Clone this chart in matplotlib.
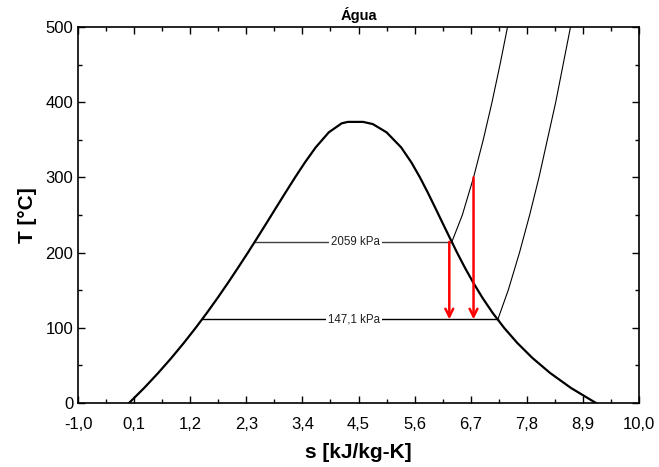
import numpy as np
import matplotlib
matplotlib.use("Agg")
import matplotlib.pyplot as plt
from matplotlib.ticker import FixedLocator, MultipleLocator

plt.rcParams['font.family'] = ['Liberation Sans', 'DejaVu Sans']

# curva de saturacao (T em C, s em kJ/kg-K), lado liquido e lado vapor
T_liq = [0.01, 20, 40, 60, 80, 100, 120, 140, 160, 180, 200, 220, 240,
         260, 280, 300, 320, 340, 360, 372, 373.9]
s_liq = [0.0, 0.2966, 0.5724, 0.8312, 1.0754, 1.3069, 1.5278, 1.7391, 1.9418,
         2.1381, 2.3305, 2.5175, 2.7020, 2.8849, 3.0685, 3.2552, 3.4494,
         3.6601, 3.9167, 4.17, 4.29]
T_vap = [373.9, 371, 360, 340, 320, 300, 280, 260, 240, 220, 200, 180,
         160, 140, 120, 100, 80, 60, 40, 20, 0.01]
s_vap = [4.59, 4.78, 5.05, 5.3357, 5.5362, 5.7049, 5.8571, 6.0019, 6.1437,
         6.2872, 6.4323, 6.5857, 6.7502, 6.9294, 7.1286, 7.3544, 7.6111,
         7.9082, 8.2556, 8.6661, 9.1556]

# isobaras
p_alta_label = "2059 kPa"
T_alta = [214.3, 250, 300, 350, 400, 450, 500]
s_alta = [6.33, 6.535, 6.755, 6.945, 7.117, 7.274, 7.421]
s_alta_liq = 2.46

p_baixa_label = "147,1 kPa"
T_baixa = [111.3, 150, 200, 250, 300, 400, 500]
s_baixa = [7.232, 7.435, 7.656, 7.855, 8.038, 8.366, 8.656]
s_baixa_liq = 1.43

# setas de expansao (s, T inicio, T fim)
setas_s = [6.28, 6.755]
setas_T0 = [214.3, 300]
setas_T1 = [111.3, 111.3]

fig = plt.figure(figsize=(6.59, 4.67), dpi=100)
ax = fig.add_axes([0.1184, 0.137, 0.8513, 0.805])

# domo
ax.plot(s_liq + s_vap, T_liq + T_vap, color='black', lw=1.6, zorder=3)

# isobaras
ax.plot([s_alta_liq, s_alta[0]], [T_alta[0], T_alta[0]], color='#404040', lw=1.0, zorder=2)
ax.plot(s_alta, T_alta, color='black', lw=0.8, zorder=2)
ax.plot([s_baixa_liq, s_baixa[0]], [T_baixa[0], T_baixa[0]], color='black', lw=1.0, zorder=2)
ax.plot(s_baixa, T_baixa, color='black', lw=0.8, zorder=2)

ax.text((s_alta_liq + s_alta[0]) / 2 + 0.05, T_alta[0], p_alta_label, fontsize=8.3,
        ha='center', va='center', color='#202020',
        bbox=dict(facecolor='white', edgecolor='none', pad=1.5), zorder=4)
ax.text((s_baixa_liq + s_baixa[0]) / 2 + 0.08, T_baixa[0], p_baixa_label, fontsize=8.3,
        ha='center', va='center', color='#202020',
        bbox=dict(facecolor='white', edgecolor='none', pad=1.5), zorder=4)

for s, t0, t1 in zip(setas_s, setas_T0, setas_T1):
    ax.annotate('', xy=(s, t1), xytext=(s, t0),
                arrowprops=dict(arrowstyle='->', color='red', lw=1.8,
                                mutation_scale=14, shrinkA=0, shrinkB=0),
                zorder=5)

ax.set_xlim(-1.0, 10.0)
ax.set_ylim(0, 500)
xt = [-1.0 + 1.1 * i for i in range(11)]
ax.xaxis.set_major_locator(FixedLocator(xt))
ax.xaxis.set_minor_locator(FixedLocator([x + 0.55 for x in xt[:-1]]))
ax.set_xticklabels([f"{x:.1f}".replace('.', ',') for x in xt])
ax.yaxis.set_major_locator(MultipleLocator(100))
ax.yaxis.set_minor_locator(MultipleLocator(50))

ax.tick_params(which='both', direction='in', top=True, right=True, labelsize=12, width=1)
ax.tick_params(which='major', length=5)
ax.tick_params(which='minor', length=3)
ax.tick_params(axis='x', pad=10)
for sp in ax.spines.values():
    sp.set_linewidth(1.2)

ax.set_xlabel('s [kJ/kg-K]', fontsize=15, fontweight='bold', labelpad=8)
ax.set_ylabel('T [°C]', fontsize=15, fontweight='bold', labelpad=6)
ax.set_title('Água', fontsize=10.5, fontweight='bold', pad=5)

fig.savefig('out.png', dpi=100)
